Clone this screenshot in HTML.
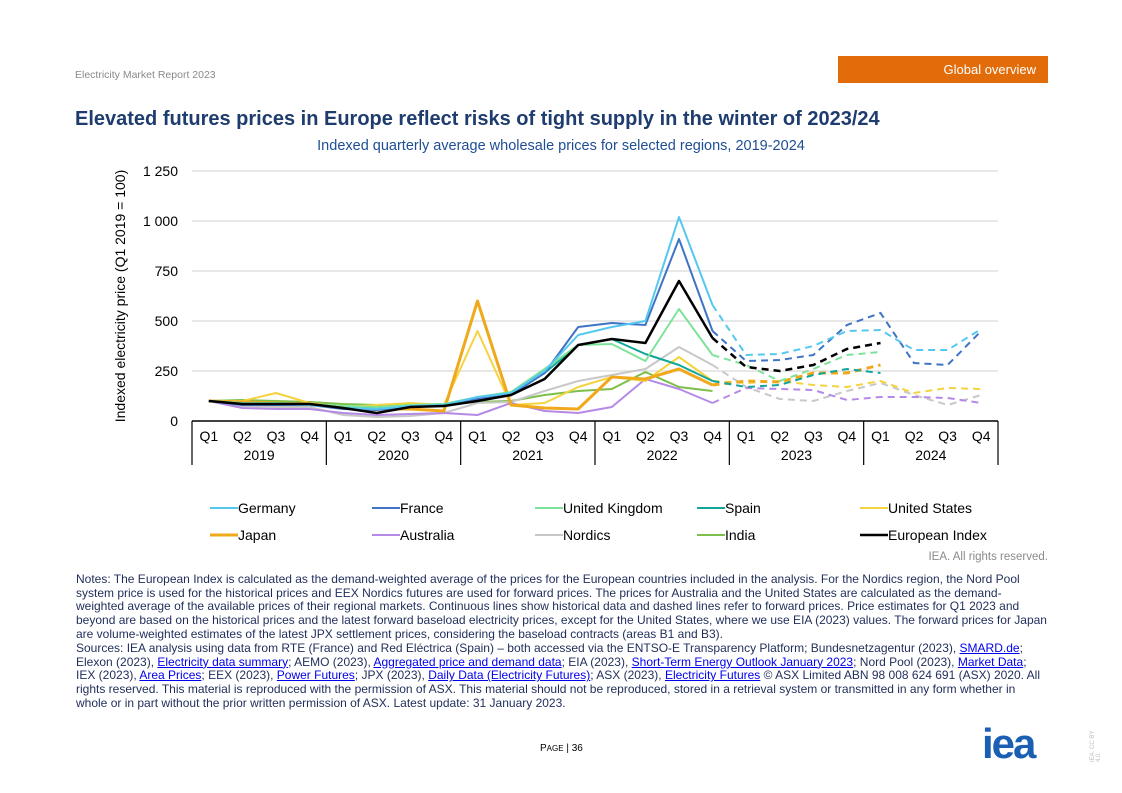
<!DOCTYPE html>
<html><head><meta charset="utf-8">
<style>
body{margin:0;width:1122px;height:793px;background:#fff;font-family:"Liberation Sans",Arial,sans-serif;position:relative;overflow:hidden}
.abs{position:absolute}
.notes{left:76px;width:990px;font-size:12px;line-height:13.7px;color:#1f2d5a;white-space:nowrap}
.notes a{color:#0000ee;text-decoration:underline}
</style></head><body>
<div class="abs" style="left:75px;top:69px;font-size:10.5px;color:#8a8a8a">Electricity Market Report 2023</div>
<div class="abs" style="left:838px;top:56px;width:210px;height:27px;background:#e36c0a;color:#fff;font-size:13px;text-align:right;box-sizing:border-box;padding:6px 12px 0 0">Global overview</div>
<div class="abs" style="left:75px;top:108px;font-size:20px;font-weight:bold;color:#1f3c6e">Elevated futures prices in Europe reflect risks of tight supply in the winter of 2023/24</div>
<div class="abs" style="left:0;width:1122px;top:138px;text-align:center;font-size:14.5px;color:#1f4e96">Indexed quarterly average wholesale prices for selected regions, 2019-2024</div>
<svg class="abs" style="left:0;top:0" width="1122" height="560" id="chart"></svg>
<div class="abs" style="right:74px;top:551px;font-size:11.5px;color:#8a8a8a">IEA. All rights reserved.</div>
<div class="abs notes" style="top:573px">Notes: The European Index is calculated as the demand-weighted average of the prices for the European countries included in the analysis. For the Nordics region, the Nord Pool<br>system price is used for the historical prices and EEX Nordics futures are used for forward prices. The prices for Australia and the United States are calculated as the demand-<br>weighted average of the available prices of their regional markets. Continuous lines show historical data and dashed lines refer to forward prices. Price estimates for Q1 2023 and<br>beyond are based on the historical prices and the latest forward baseload electricity prices, except for the United States, where we use EIA (2023) values. The forward prices for Japan<br>are volume-weighted estimates of the latest JPX settlement prices, considering the baseload contracts (areas B1 and B3).</div>
<div class="abs notes" style="top:642px">Sources: IEA analysis using data from RTE (France) and Red Eléctrica (Spain) – both accessed via the ENTSO-E Transparency Platform; Bundesnetzagentur (2023), <a>SMARD.de</a>;<br>Elexon (2023), <a>Electricity data summary</a>; AEMO (2023), <a>Aggregated price and demand data</a>; EIA (2023), <a>Short-Term Energy Outlook January 2023</a>; Nord Pool (2023), <a>Market Data</a>;<br>IEX (2023), <a>Area Prices</a>; EEX (2023), <a>Power Futures</a>; JPX (2023), <a>Daily Data (Electricity Futures)</a>; ASX (2023), <a>Electricity Futures</a> © ASX Limited ABN 98 008 624 691 (ASX) 2020. All<br>rights reserved. This material is reproduced with the permission of ASX. This material should not be reproduced, stored in a retrieval system or transmitted in any form whether in<br>whole or in part without the prior written permission of ASX. Latest update: 31 January 2023.</div>
<div class="abs" style="left:540px;top:743px;font-size:10px;color:#000">P<span style="font-size:8px">AGE</span> | 36</div>
<div class="abs" style="left:982px;top:720px;font-size:42px;font-weight:bold;color:#1a5fb4;letter-spacing:-2px">iea</div>
<div class="abs" style="left:1090px;top:762px;font-size:6px;color:#bbb;transform:rotate(-90deg);transform-origin:left top">IEA. CC BY 4.0.</div>
<script>
const quarters=["Q1","Q2","Q3","Q4"];
const years=["2019","2020","2021","2022","2023","2024"];
const yTicks=[0,250,500,750,1000,1250];
const yTickLabels=["0","250","500","750","1 000","1 250"];
const germany=[100,85,85,80,65,60,75,80,120,140,250,430,470,500,1020,580,330,335,375,450,455,355,355,460];
const france=[100,80,80,80,60,55,70,80,110,130,240,470,490,480,910,450,300,305,330,480,540,290,280,450];
const uk=[100,90,90,85,75,70,80,85,120,145,260,380,385,300,560,330,280,200,260,330,345,null,null,null];
const spain=[100,90,90,80,70,70,75,80,100,135,240,380,410,335,280,200,170,180,230,260,240,null,null,null];
const us=[100,100,140,90,70,80,90,80,450,80,90,170,220,200,320,200,190,200,180,170,200,140,165,160];
const japan=[100,95,90,85,70,60,60,50,600,80,65,60,220,210,260,180,200,195,240,240,280,null,null,null];
const australia=[100,65,60,60,40,30,35,40,30,90,50,40,70,210,160,90,165,160,155,105,120,120,115,90];
const nordics=[100,75,70,70,30,20,25,40,90,95,150,200,230,260,370,280,170,110,100,150,190,130,80,130];
const india=[100,105,100,95,85,80,80,85,95,100,130,150,160,245,170,150,null,null,null,null,null,null,null,null];
const euro=[100,85,85,85,65,40,70,75,100,130,210,380,410,390,700,415,270,250,280,360,390,null,null,null];
const seriesNames=["Germany","France","United Kingdom","Spain","United States","Japan","Australia","Nordics","India","European Index"];
const seriesData=[germany,france,uk,spain,us,japan,australia,nordics,india,euro];
const colors=["#55c8f0","#3f74c4","#7ee39a","#12a69a","#f5d33f","#f0a91c","#b58ae6","#c8c8c8","#7cbf4a","#000000"];
const widths=[2,2,2,2,2,3,2,2,2,2.5];
const L=192,R=998,T=171,B=421,N=24,HIST=15;
const x=i=>L+(R-L)/N*(i+0.5);
const y=v=>B-(B-T)*v/1250;
const svg=document.getElementById('chart');
const NS='http://www.w3.org/2000/svg';
function mk(t,a){const e=document.createElementNS(NS,t);for(const k in a)e.setAttribute(k,a[k]);svg.appendChild(e);return e;}
yTicks.forEach((v,i)=>{
  if(v>0){const g=mk('line',{x1:L,x2:R,y1:y(v),y2:y(v),stroke:'#e0e0e0','stroke-width':1.5});
  
  }
  const t=mk('text',{x:178,y:y(v)+5,'text-anchor':'end','font-size':14,fill:'#000'});t.textContent=yTickLabels[i];
  
  
});
const yt=mk('text',{transform:'translate(125,296) rotate(-90)','text-anchor':'middle','font-size':14,fill:'#000'});yt.textContent='Indexed electricity price (Q1 2019 = 100)';


const ax=mk('line',{x1:L,x2:R,y1:B,y2:B,stroke:'#000','stroke-width':1.5});


for(let i=0;i<N;i++){
  const t=mk('text',{x:x(i),y:441,'text-anchor':'middle','font-size':14,fill:'#000'});t.textContent=quarters[i%4];
  
  
}
const step=(R-L)/N;
for(let j=0;j<=years.length;j++){
  const xx=L+j*step*4;
  const l=mk('line',{x1:xx,x2:xx,y1:B,y2:465,stroke:'#000','stroke-width':1.2});
  
  
  if(j<years.length){const t=mk('text',{x:xx+step*2,y:460,'text-anchor':'middle','font-size':14,fill:'#000'});t.textContent=years[j];
  
  }
}
function path(arr,a,b){let d='';for(let i=a;i<=b;i++){if(arr[i]==null)continue;d+=(d?'L':'M')+x(i).toFixed(1)+','+y(arr[i]).toFixed(1);}return d;}
const order=[8,7,6,4,5,3,2,1,0,9];
order.forEach(s=>{
  const arr=seriesData[s];
  const p1=mk('path',{d:path(arr,0,HIST),fill:'none',stroke:colors[s],'stroke-width':widths[s],'stroke-linejoin':'round'});
  
  
  if(arr[HIST+1]!=null){
    const p2=mk('path',{d:path(arr,HIST,N-1),fill:'none',stroke:colors[s],'stroke-width':widths[s],'stroke-dasharray':'7,5'});
    
    
  }
});
const legX=[210,372,535,697,860];
seriesNames.forEach((n,i)=>{
  const lx=legX[i%5],ly=i<5?508:535;
  const l=mk('line',{x1:lx,x2:lx+28,y1:ly,y2:ly,stroke:colors[i],'stroke-width':widths[i]});
  
  
  const t=mk('text',{x:lx+28,y:ly+5,'font-size':14,fill:'#000'});t.textContent=n;
  
  
});
</script>
</body></html>
